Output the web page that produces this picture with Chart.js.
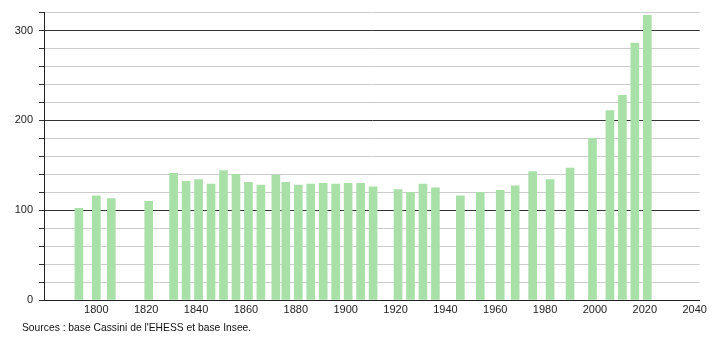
<!DOCTYPE html>
<html>
<head>
<meta charset="utf-8">
<script src="https://cdn.jsdelivr.net/npm/chart.js@4/dist/chart.umd.min.js"></script>
<style>
  html,body{margin:0;padding:0;background:#fff;}
  #wrap{width:710px;height:340px;}
</style>
</head>
<body>
<div id="wrap"><canvas id="pop"></canvas></div>
<script>
// Census years and population
const years = [1793,1800,1806,1821,1831,1836,1841,1846,1851,1856,1861,1866,1872,1876,1881,1886,1891,1896,1901,1906,1911,1921,1926,1931,1936,1946,1954,1962,1968,1975,1982,1990,1999,2006,2011,2016,2021];
const population = [102,116,113,110,141,132,134,129,144,140,131,128,139,131,128,129,130,129,130,130,126,123,120,129,125,116,120,122,127,143,134,147,180,211,228,286,317];
const yTicks = [0,20,40,60,80,100,120,140,160,180,200,220,240,260,280,300,320];
const yLabels = [0,100,200,300];
const xLabels = [1800,1820,1840,1860,1880,1900,1920,1940,1960,1980,2000,2020,2040];
const sourceText = "Sources : base Cassini de l'EHESS et base Insee.";

const font = {family:'"Liberation Sans", Arial, sans-serif', size:11};

// source line under the x axis, aligned like the original
const sourcePlugin = {
  id:'sourceLine',
  afterDraw(chart){
    const ctx = chart.ctx;
    ctx.save();
    ctx.font = '10.3px ' + font.family;
    ctx.fillStyle = '#111';
    ctx.textBaseline = 'middle';
    ctx.textAlign = 'left';
    ctx.fillText(sourceText, 22, 328);
    ctx.restore();
  }
};

new Chart(document.getElementById('pop'),{
  type:'bar',
  data:{
    datasets:[{
      data: years.map((y,i)=>({x:y, y:population[i]})),
      backgroundColor:'rgb(168,224,168)',
      borderWidth:0,
      barThickness:8
    }]
  },
  options:{
    responsive:true,
    maintainAspectRatio:false,
    animation:false,
    layout:{padding:{left:0,right:10,top:10,bottom:24}},
    plugins:{
      legend:{display:false},
      tooltip:{enabled:false}
    },
    scales:{
      x:{
        type:'linear',
        min:1779,
        max:2042,
        offset:false,
        afterBuildTicks:(s)=>{ s.ticks = xLabels.map(v=>({value:v})); },
        afterFit:(s)=>{ s.height = 16; },
        ticks:{font:font,color:'#222',padding:3,maxRotation:0,autoSkip:false,callback:v=>String(v)},
        grid:{display:false,drawTicks:false},
        border:{display:true,color:'#222',width:1}
      },
      y:{
        min:0,
        max:320,
        afterBuildTicks:(s)=>{ s.ticks = yTicks.map(v=>({value:v})); },
        afterFit:(s)=>{ s.width = 44; },
        ticks:{font:font,color:'#222',padding:6,autoSkip:false,
          callback:v=> yLabels.includes(v) ? String(v) : ''},
        grid:{
          color:(c)=> (c.tick && c.tick.value%100===0) ? '#333' : '#ccc',
          tickColor:'#333',
          tickLength:5
        },
        border:{display:true,color:'#222',width:1}
      }
    }
  },
  plugins:[sourcePlugin]
});
</script>
</body>
</html>
